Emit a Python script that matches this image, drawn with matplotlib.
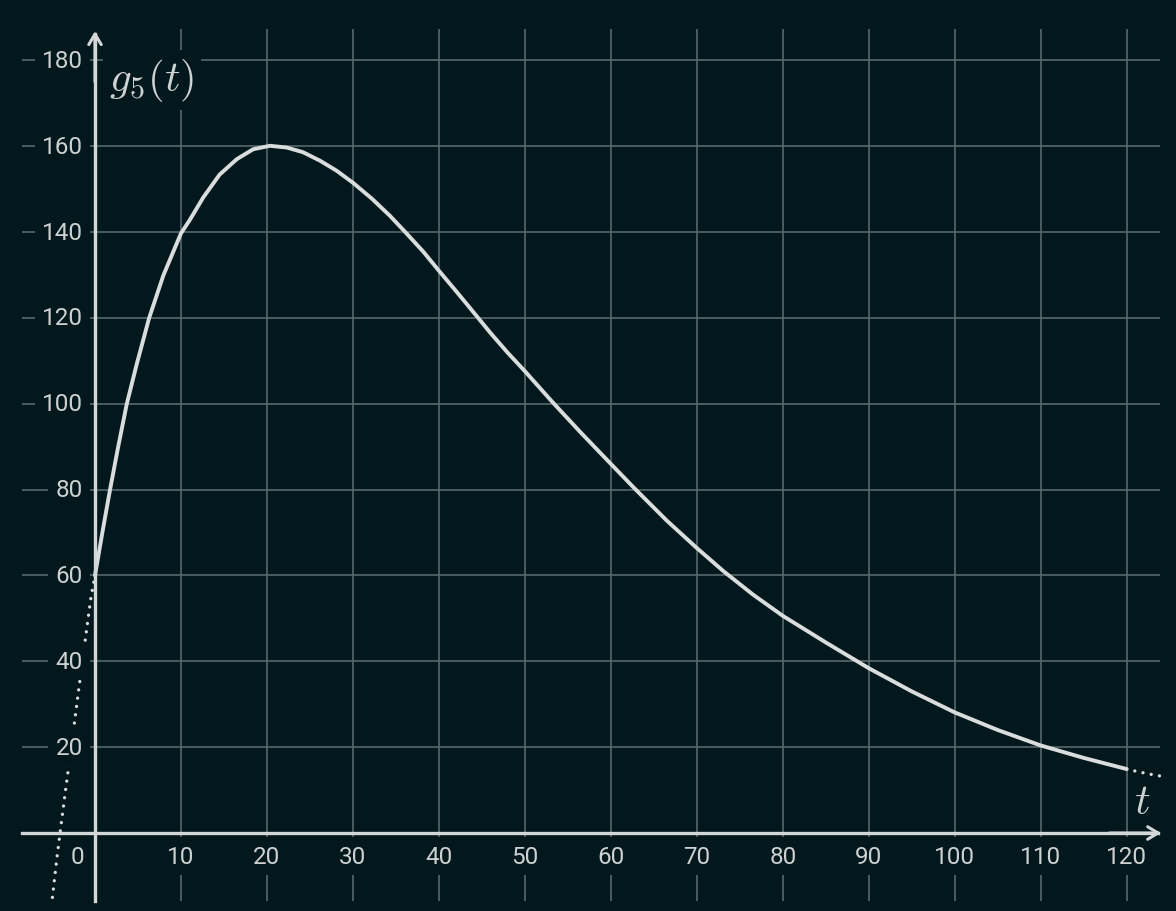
import matplotlib
matplotlib.use("Agg")
from matplotlib import pyplot as plt

# colours
bg = '#03181d'
grid_col = '#56686c'
axis_col = '#d3d7d7'
curve_col = '#d9dddd'
text_col = '#cdd1d1'

# curve (solid part, 0 <= t <= 120)
t_vals = [0, 0.9, 1.75, 2.65, 3.7, 4.85, 6.3, 7.95, 10, 11.05, 12.6, 14.5,
          16.5, 18.4, 20.35, 22.3, 24.2, 26.2, 28.1, 30, 32.2, 34.3, 36, 38.2,
          40, 42.1, 44.2, 46, 48, 50, 53.3, 56.5, 60, 62.7, 66.5, 70, 73.1,
          76.5, 80, 85, 90, 95, 100, 105, 110, 115, 120]
g_vals = [60, 70.5, 80, 89.5, 100, 109.2, 120, 129.9, 139.7, 142.9, 148.1,
          153.4, 157, 159.3, 160.1, 159.7, 158.6, 156.6, 154.3, 151.5, 147.8,
          143.8, 140.2, 135.4, 131, 126, 120.9, 116.5, 111.9, 107.6, 100.2,
          93.3, 86, 80.4, 72.8, 66.4, 61, 55.6, 50.6, 44.4, 38.4, 33, 28.1,
          24, 20.4, 17.5, 14.9]

# dotted continuation outside the domain
t_left = [-4.95, -4.5, -4.07, -3.5, -3.0, -2.5, -2.0, -1.5, -1.0, -0.5, 0]
g_left = [-15, -7, 0, 8.8, 16.4, 24, 31.8, 39.5, 47, 54.5, 60]
t_right = [120, 121.5, 123, 124.4]
g_right = [14.9, 14.2, 13.6, 13.1]

x_ticks = [10, 20, 30, 40, 50, 60, 70, 80, 90, 100, 110, 120]
y_ticks = [20, 40, 60, 80, 100, 120, 140, 160, 180]

plt.rcParams['mathtext.fontset'] = 'cm'

fig = plt.figure(figsize=(11.76, 9.12), dpi=100, facecolor=bg)
ax = fig.add_axes([0, 0, 1, 1])
ax.set_facecolor(bg)
ax.set_xlim(-11.05, 125.74)
ax.set_ylim(-18.17, 194.3)
ax.axis('off')

# grid, running a bit past the axes
ax.vlines(x_ticks, -15.8, 187.3, color=grid_col, lw=1.2, zorder=1)
ax.hlines(y_ticks, -8.5, 123.9, color=grid_col, lw=1.2, zorder=1)

# the graph
ax.plot(t_vals, g_vals, color=curve_col, lw=2.8, solid_capstyle='round',
        solid_joinstyle='round', zorder=2)
ax.plot(t_left, g_left, color=curve_col, lw=2.4, linestyle=(0, (0.01, 2.5)),
        dash_capstyle='round', zorder=2)
ax.plot(t_right, g_right, color=curve_col, lw=2.4, linestyle=(0, (0.01, 2.5)),
        dash_capstyle='round', zorder=2)

# tick labels with a background box that hides the grid behind them
box = dict(boxstyle='square,pad=0.3', fc=bg, ec='none')
for v in y_ticks:
    ax.text(-1.4, v, str(v), ha='right', va='center', fontsize=17.5,
            family='Roboto', color=text_col, bbox=box, zorder=3)
for v in x_ticks:
    ax.text(v, -5.4, str(v), ha='center', va='center', fontsize=17.5,
            family='Roboto', color=text_col, bbox=box, zorder=3)
ax.text(-2.1, -5.4, '0', ha='center', va='center', fontsize=17.5,
        family='Roboto', color=text_col, bbox=box, zorder=3)

# axis names
ax.text(6.6, 175.5, r'$g_5(t)$', ha='center', va='center', fontsize=31,
        color=text_col, bbox=dict(boxstyle='square,pad=0.15', fc=bg, ec='none'),
        zorder=3)
ax.text(121.8, 7.5, r'$t$', ha='center', va='center', fontsize=31,
        color=text_col, zorder=3)

# axes with open arrow heads
ax.plot([-8.5, 123.6], [0, 0], color=axis_col, lw=2.4, zorder=4)
ax.plot([0, 0], [-15.8, 186.2], color=axis_col, lw=2.4, zorder=4)
arrow = dict(arrowstyle='->,head_length=0.75,head_width=0.45', color=axis_col,
             lw=2.2, shrinkA=0, shrinkB=0)
ax.annotate('', xy=(124.0, 0), xytext=(118, 0), arrowprops=arrow, zorder=4)
ax.annotate('', xy=(0, 186.8), xytext=(0, 175), arrowprops=arrow, zorder=4)

fig.savefig('out.png', dpi=100, facecolor=bg)
